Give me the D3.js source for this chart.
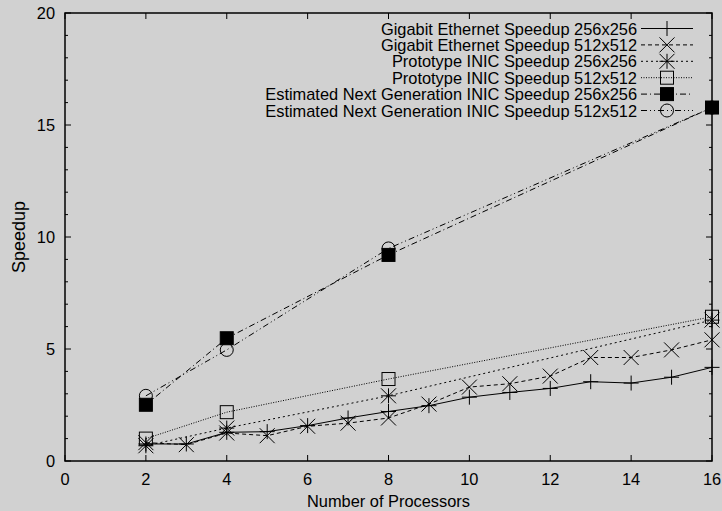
<!DOCTYPE html>
<html>
<head>
<meta charset="utf-8">
<script src="https://cdn.jsdelivr.net/npm/d3@7"></script>
<style>
  html, body { margin: 0; padding: 0; background: #d1d1d1; }
  svg { display: block; font-family: "Liberation Sans", Arial, sans-serif; }
</style>
</head>
<body>
<div id="chart"></div>
<script>
// data
const procsAll = [2, 3, 4, 5, 6, 7, 8, 9, 10, 11, 12, 13, 14, 15, 16];
const procsFew = [2, 4, 8, 16];

const gigE256 = [0.76, 0.76, 1.28, 1.31, 1.58, 1.92, 2.21, 2.47, 2.85, 3.06, 3.24, 3.54, 3.48, 3.74, 4.18];
const gigE512 = [0.82, 0.73, 1.25, 1.13, 1.55, 1.69, 1.92, 2.54, 3.30, 3.45, 3.79, 4.62, 4.62, 4.96, 5.41];
const proto256 = [0.68, 1.47, 2.91, 6.29];
const proto512 = [1.00, 2.18, 3.66, 6.44];
const next256 = [2.51, 5.48, 9.20, 15.78];
const next512 = [2.91, 4.96, 9.49, 15.78];

const xTicks = [0, 2, 4, 6, 8, 10, 12, 14, 16];
const yTicks = [0, 5, 10, 15, 20];
const yMinor = d3.range(0, 21, 1);

const series = [
  { name: "Gigabit Ethernet Speedup 256x256", xs: procsAll, ys: gigE256, dash: null, mark: "plus" },
  { name: "Gigabit Ethernet Speedup 512x512", xs: procsAll, ys: gigE512, dash: "4,3", mark: "cross" },
  { name: "Prototype INIC Speedup 256x256", xs: procsFew, ys: proto256, dash: "2,3", mark: "star" },
  { name: "Prototype INIC Speedup 512x512", xs: procsFew, ys: proto512, dash: "1,1.5", mark: "box" },
  { name: "Estimated Next Generation INIC Speedup 256x256", xs: procsFew, ys: next256, dash: "6,3,1,3", mark: "fbox" },
  { name: "Estimated Next Generation INIC Speedup 512x512", xs: procsFew, ys: next512, dash: "6,3,1,3,1,3", mark: "circle" }
];

const W = 722, H = 511;
const margin = { top: 13, right: 10, bottom: 50, left: 65 };
const fs = 16.4;

const svg = d3.select("#chart").append("svg")
  .attr("width", W).attr("height", H);

svg.append("rect").attr("width", W).attr("height", H).attr("fill", "#d1d1d1");

const x = d3.scaleLinear().domain([0, 16]).range([margin.left, W - margin.right]);
const y = d3.scaleLinear().domain([0, 20]).range([H - margin.bottom, margin.top]);

const ink = "#000";

// ticks (inward, mirrored)
const g = svg.append("g").attr("stroke", ink).attr("stroke-width", 1);
xTicks.forEach(t => {
  g.append("line").attr("x1", x(t)).attr("x2", x(t)).attr("y1", y(0)).attr("y2", y(0) - 6);
  g.append("line").attr("x1", x(t)).attr("x2", x(t)).attr("y1", y(20)).attr("y2", y(20) + 6);
});
yMinor.forEach(t => {
  const len = t % 5 === 0 ? 6 : 3;
  g.append("line").attr("x1", x(0)).attr("x2", x(0) + len).attr("y1", y(t)).attr("y2", y(t));
  g.append("line").attr("x1", x(16)).attr("x2", x(16) - len).attr("y1", y(t)).attr("y2", y(t));
});

// border
svg.append("rect")
  .attr("x", x(0)).attr("y", y(20))
  .attr("width", x(16) - x(0)).attr("height", y(0) - y(20))
  .attr("fill", "none").attr("stroke", ink).attr("stroke-width", 1.5);

// tick labels
svg.append("g").selectAll("text").data(xTicks).enter().append("text")
  .attr("x", d => x(d)).attr("y", y(0) + 24)
  .attr("text-anchor", "middle").attr("font-size", fs).attr("fill", ink)
  .text(d => d);
svg.append("g").selectAll("text").data(yTicks).enter().append("text")
  .attr("x", x(0) - 10).attr("y", d => y(d) + 6)
  .attr("text-anchor", "end").attr("font-size", fs).attr("fill", ink)
  .text(d => d);

// axis titles
svg.append("text")
  .attr("x", (x(0) + x(16)) / 2).attr("y", H - 4)
  .attr("text-anchor", "middle").attr("font-size", fs).attr("fill", ink)
  .text("Number of Processors");
svg.append("text")
  .attr("transform", "translate(25," + ((y(0) + y(20)) / 2) + ") rotate(-90)")
  .attr("text-anchor", "middle").attr("font-size", 18).attr("fill", ink)
  .text("Speedup");

// point markers
function drawMark(sel, type, cx, cy) {
  const s = 7.5;
  if (type === "plus") {
    sel.append("path").attr("d", `M${cx - s},${cy}H${cx + s}M${cx},${cy - s}V${cy + s}`)
      .attr("stroke", ink).attr("fill", "none");
  } else if (type === "cross") {
    sel.append("path").attr("d", `M${cx - s},${cy - s}L${cx + s},${cy + s}M${cx - s},${cy + s}L${cx + s},${cy - s}`)
      .attr("stroke", ink).attr("fill", "none");
  } else if (type === "star") {
    sel.append("path").attr("d", `M${cx - s},${cy}H${cx + s}M${cx},${cy - s}V${cy + s}` +
      `M${cx - s},${cy - s}L${cx + s},${cy + s}M${cx - s},${cy + s}L${cx + s},${cy - s}`)
      .attr("stroke", ink).attr("fill", "none");
  } else if (type === "box") {
    sel.append("rect").attr("x", cx - 6.5).attr("y", cy - 6.5).attr("width", 13).attr("height", 13)
      .attr("stroke", ink).attr("fill", "none");
  } else if (type === "fbox") {
    sel.append("rect").attr("x", cx - 6.5).attr("y", cy - 6.5).attr("width", 13).attr("height", 13)
      .attr("stroke", ink).attr("fill", ink);
  } else if (type === "circle") {
    sel.append("circle").attr("cx", cx).attr("cy", cy).attr("r", 6.5)
      .attr("stroke", ink).attr("fill", "none");
  }
}

const line = d3.line().x(d => x(d[0])).y(d => y(d[1]));

series.forEach(s => {
  const pts = s.xs.map((v, i) => [v, s.ys[i]]);
  const gs = svg.append("g");
  gs.append("path").datum(pts)
    .attr("d", line)
    .attr("fill", "none").attr("stroke", ink).attr("stroke-width", 1)
    .attr("stroke-dasharray", s.dash);
  pts.forEach(p => drawMark(gs, s.mark, x(p[0]), y(p[1])));
});

// legend
const legX = 637, legY0 = 28.5, legStep = 16.4;
series.forEach((s, i) => {
  const ly = legY0 + i * legStep;
  svg.append("text")
    .attr("x", legX).attr("y", ly + 6)
    .attr("text-anchor", "end").attr("font-size", fs).attr("fill", ink)
    .text(s.name);
  svg.append("line")
    .attr("x1", legX + 4).attr("x2", legX + 56).attr("y1", ly).attr("y2", ly)
    .attr("stroke", ink).attr("stroke-width", 1).attr("stroke-dasharray", s.dash);
  drawMark(svg, s.mark, legX + 30, ly);
});
</script>
</body>
</html>
